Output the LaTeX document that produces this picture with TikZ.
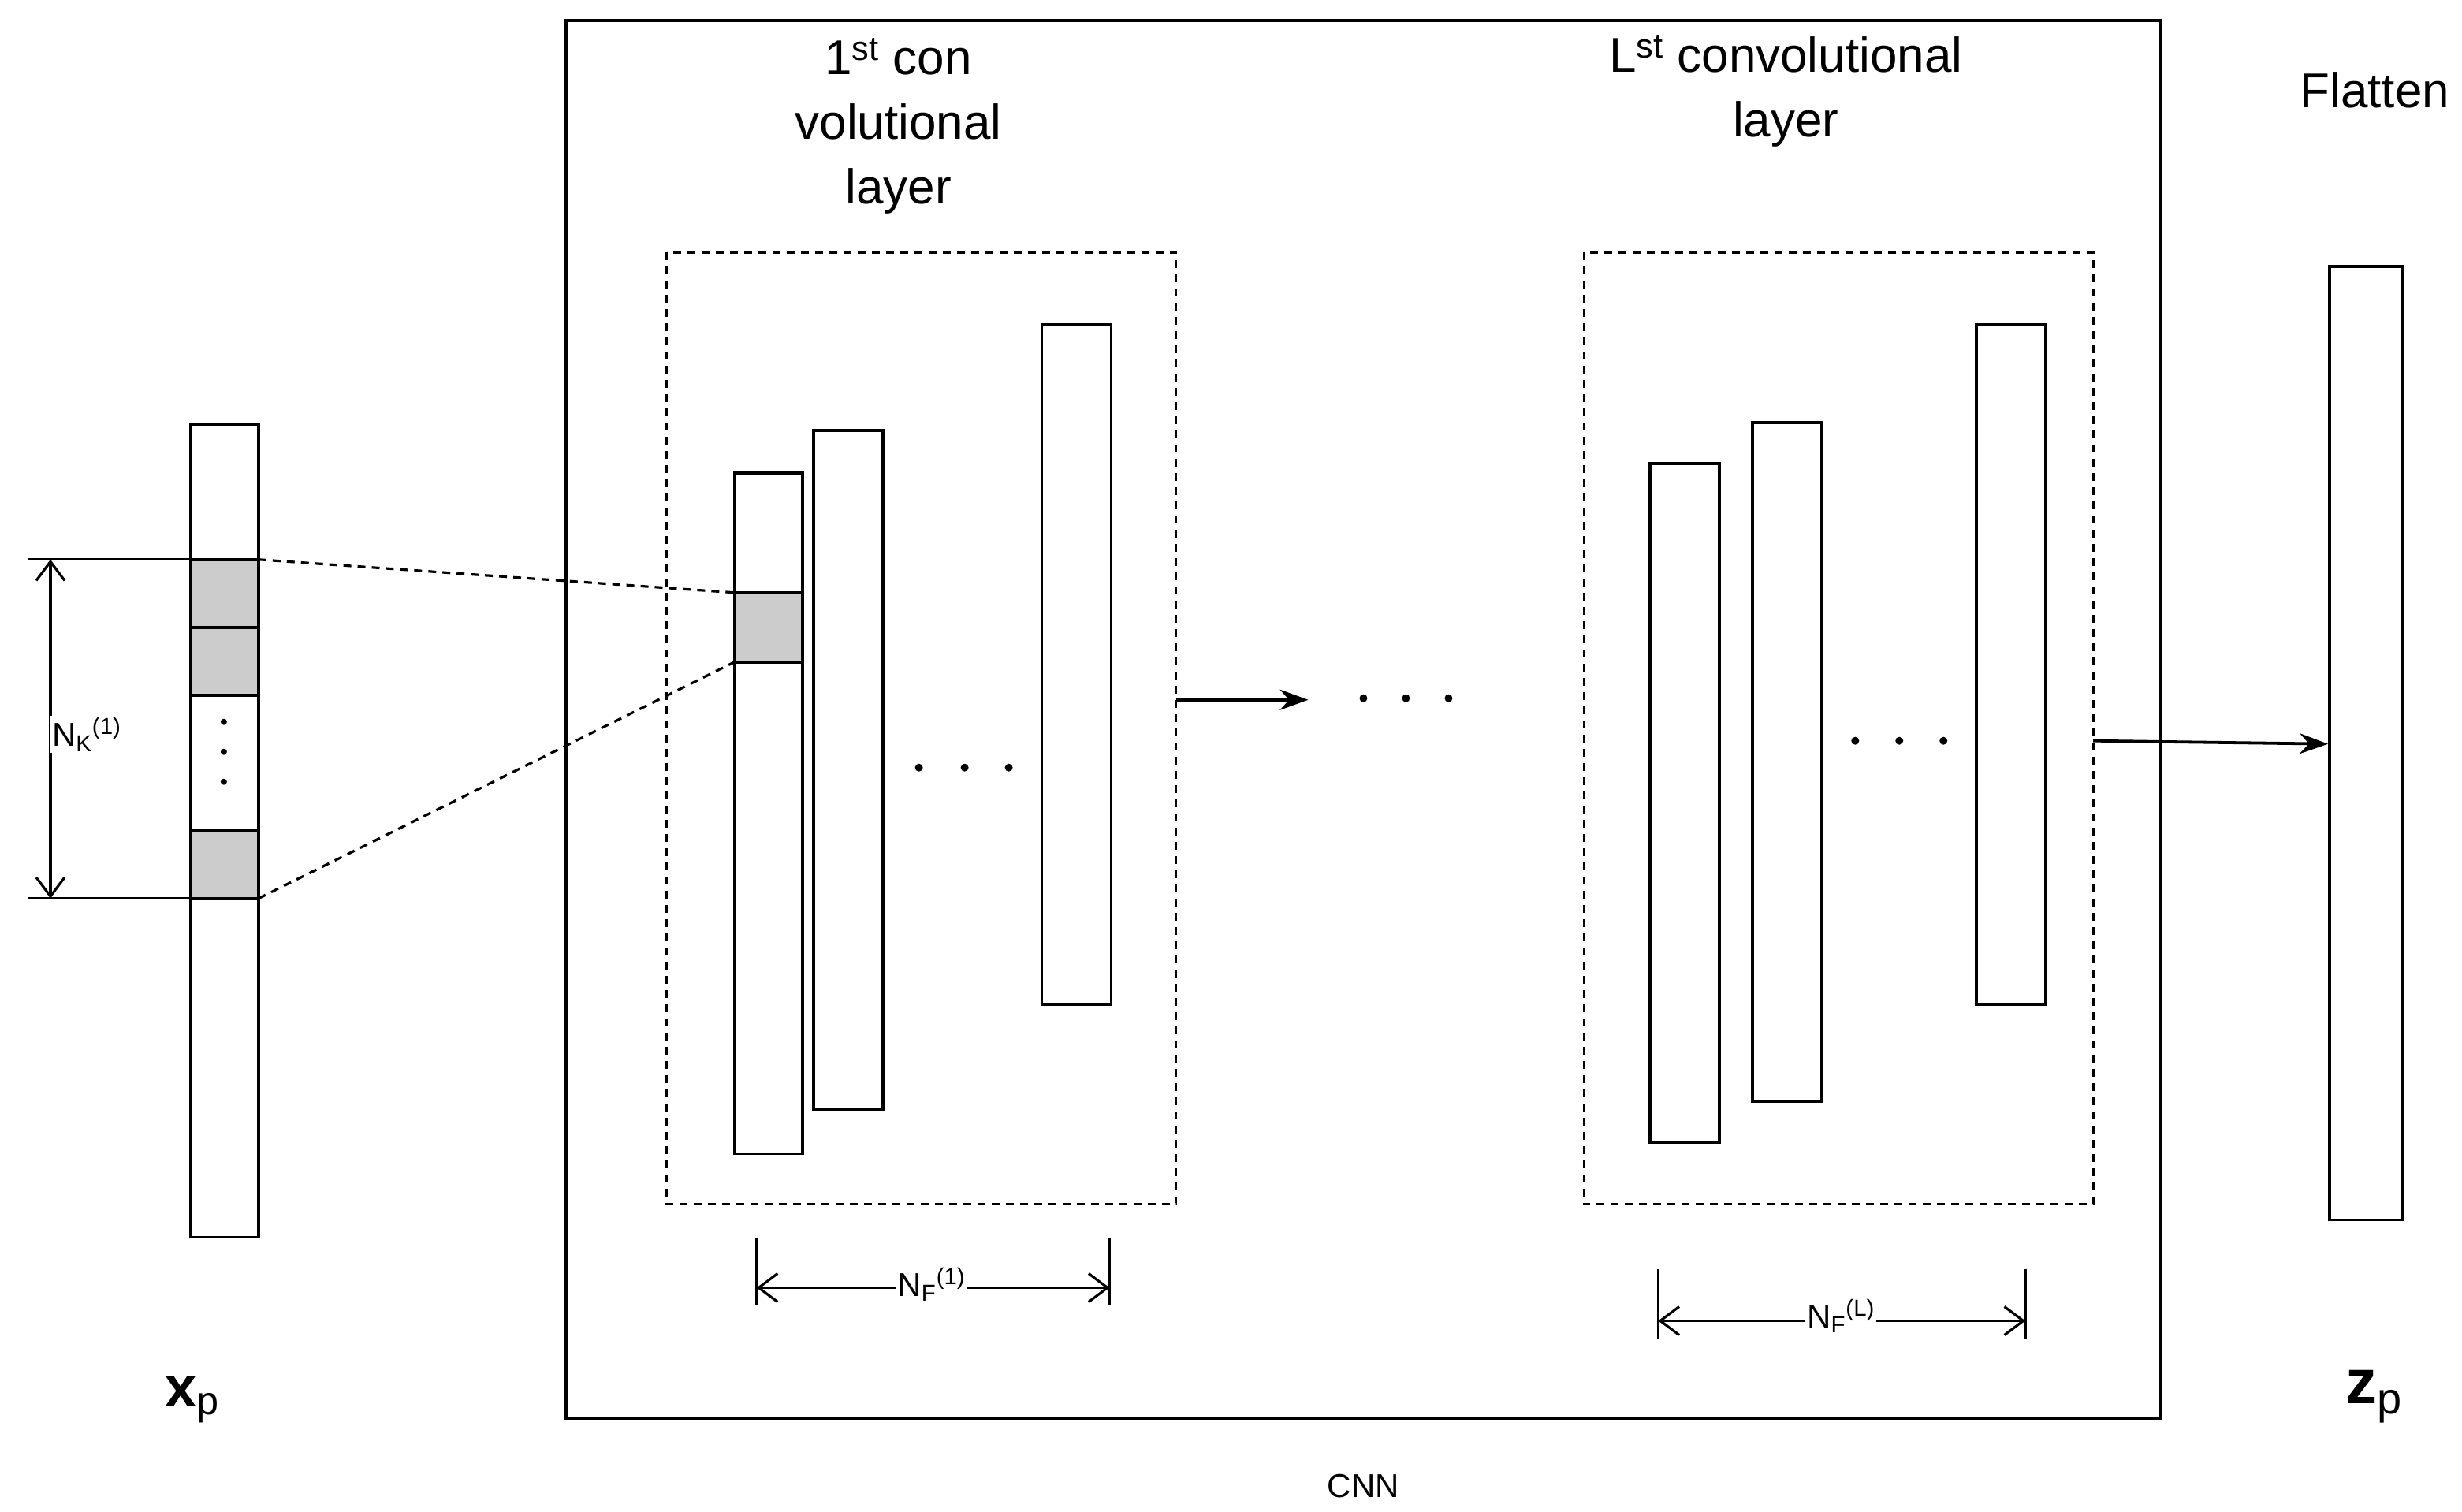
\documentclass[tikz,border=0pt]{standalone}
\usepackage{fontspec}
\setmainfont{Liberation Sans}
\usetikzlibrary{arrows.meta}
\begin{document}
\begin{tikzpicture}[x=1pt,y=-1pt,line width=1.9pt,
  bar/.style={draw,fill=white},
  gcell/.style={draw,fill=black!20},
  dbox/.style={draw,line width=1.6pt,dash pattern=on 5pt off 4pt},
  dim/.style={{Straight Barb[length=12pt,width=18pt]}-{Straight Barb[length=12pt,width=18pt]},line width=1.6pt},
  arr/.style={-{Stealth[length=18pt,width=13pt]}},
  lab/.style={font=\fontsize{31}{41}\selectfont,align=center},
  sm/.style={font=\fontsize{21}{24}\selectfont,fill=white,inner sep=1pt},
  dot/.style={circle,fill,inner sep=0pt,minimum size=5pt}]
\useasboundingbox (0,0) rectangle (1562,959);
\node[draw,minimum width=1012pt,minimum height=887pt,anchor=north west,inner sep=0pt] (cnn) at (358,12) {};
\node[font=\fontsize{21}{24}\selectfont] (cnnl) at (865,943) {CNN};
% x_p column
\draw[bar] (121,269) rectangle (164,785);
\draw[gcell] (121,355) rectangle (164,398);
\draw[gcell] (121,398) rectangle (164,441);
\draw[gcell] (121,527) rectangle (164,570);
\foreach \y in {458,477,496} \node[dot,minimum size=4pt] at (142,\y) {};
\coordinate (kt) at (164,355); \coordinate (kb) at (164,570);
\draw[line width=1.6pt] (18,355) -- (121,355);
\draw[line width=1.6pt] (18,570) -- (121,570);
\coordinate (da) at (32,355); \coordinate (db) at (32,570);
\draw[dim] (da) -- (db);
\node[sm,fill=white] (nk) at (55,466) {N\textsubscript{K}\textsuperscript{(1)}};
\node[font=\fontsize{36}{40}\selectfont] (xp) at (122,888) {\textbf{x}\textsubscript{p}};
% first layer
\draw[dbox] (423,160) rectangle (746,764);
\draw[bar] (466,300) rectangle (509,732);
\draw[gcell] (466,376) rectangle (509,420);
\draw[bar] (516,273) rectangle (560,704);
\draw[bar] (661,206) rectangle (705,637);
\coordinate (gt) at (466,376); \coordinate (gb) at (466,420);
\draw[dbox] (kt) -- (gt);
\draw[dbox] (kb) -- (gb);
\foreach \x in {583,612,640} \node[dot] at (\x,487) {};
\draw[line width=1.6pt] (480,785) -- (480,828) (704,785) -- (704,828);
\coordinate (f1a) at (480,817); \coordinate (f1b) at (704,817);
\draw[dim] (f1a) -- (f1b);
\node[sm] (nf1) at (591,815) {N\textsubscript{F}\textsuperscript{(1)}};
\node[lab] (t1) at (570,80) {1\textsuperscript{st} con\\volutional\\layer};
% middle
\coordinate (a1) at (746,444); \coordinate (a2) at (830,444);
\draw[arr] (a1) -- (a2);
\foreach \x in {865,892,919} \node[dot] at (\x,443) {};
% L layer
\draw[dbox] (1005,160) rectangle (1328,764);
\draw[bar] (1047,294) rectangle (1091,725);
\draw[bar] (1112,268) rectangle (1156,699);
\draw[bar] (1254,206) rectangle (1298,637);
\foreach \x in {1177,1205,1233} \node[dot] at (\x,470) {};
\draw[line width=1.6pt] (1052,805) -- (1052,850) (1285,805) -- (1285,850);
\coordinate (fLa) at (1052,838); \coordinate (fLb) at (1285,838);
\draw[dim] (fLa) -- (fLb);
\node[sm] (nfL) at (1168,835) {N\textsubscript{F}\textsuperscript{(L)}};
\node[lab] (tL) at (1133,58) {L\textsuperscript{st} convolutional\\layer};
% flatten
\node[draw,minimum width=46pt,minimum height=605pt,anchor=north west,inner sep=0pt] (fl) at (1477,168) {};
\coordinate (b1) at (1328,470);
\draw[arr] (b1) -- (fl.west |- 0,472);
\node[lab,anchor=west] (flt) at (1455,57) {Flatten};
\node[font=\fontsize{40}{44}\selectfont] (zp) at (1506,886) {\textbf{z}\textsubscript{p}};
\end{tikzpicture}
\end{document}
